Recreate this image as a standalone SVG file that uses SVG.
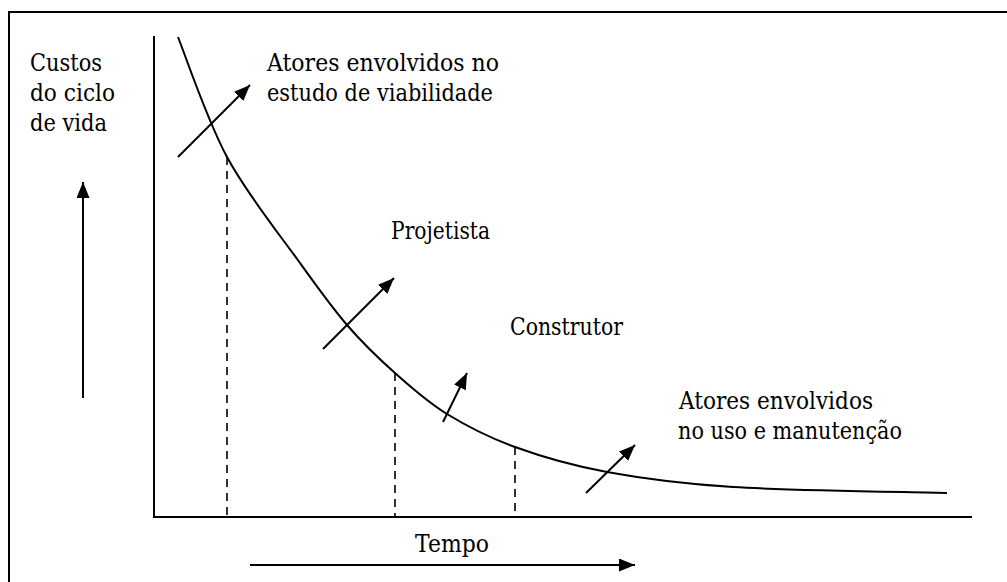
<svg xmlns="http://www.w3.org/2000/svg" width="1007" height="582" viewBox="0 0 1007 582">
<style>
  text { font-family: "DejaVu Serif", serif; font-size: 23.5px; fill: #000; }
  .ln { stroke: #000; stroke-width: 2; fill: none; }
  .ar { stroke: #000; stroke-width: 2; fill: none; marker-end: url(#ah); }
  .dash { stroke: #000; stroke-width: 1.6; stroke-dasharray: 8 6; fill: none; }
</style>
<defs>
  <marker id="ah" markerUnits="userSpaceOnUse" markerWidth="17" markerHeight="14" refX="16" refY="6.5" orient="auto">
    <path d="M0,0 L16,6.5 L0,13 Z" fill="#000"/>
  </marker>
</defs>
<rect x="0" y="0" width="1007" height="582" fill="#fff"/>
<g id="frame">
  <path class="ln" d="M9,595 L9,12 L1010,12"/>
</g>
<g id="axes">
  <path class="ln" d="M154,36 L154,517 L972,517"/>
</g>
<g id="curve">
  <path class="ln" d="M178,37 C186,57 206.7,119.3 227,157 C247.3,194.7 280,235 300,263 C320,291 331.2,306.7 347,325 C362.8,343.3 378.3,358.2 395,373 C411.7,387.8 427,401.7 447,414 C467,426.3 488.3,437.3 515,447 C541.7,456.7 570.7,465.3 607,472 C643.3,478.7 676.3,483.5 733,487 C789.7,490.5 911.3,492 947,493"/>
</g>
<g id="dashed-lines">
  <line class="dash" x1="227" y1="157" x2="227" y2="517"/>
  <line class="dash" x1="395" y1="373" x2="395" y2="517"/>
  <line class="dash" x1="515" y1="447" x2="515" y2="517"/>
</g>
<g id="connectors">
  <line class="ar" x1="178" y1="157" x2="250" y2="85"/>
  <line class="ar" x1="323" y1="349" x2="394" y2="278"/>
  <line class="ar" x1="443" y1="422" x2="467" y2="373"/>
  <line class="ar" x1="586" y1="493" x2="635" y2="445"/>
  <line class="ar" x1="83" y1="398" x2="83" y2="182"/>
  <line class="ar" x1="250" y1="565" x2="635" y2="565"/>
</g>
<g id="label-custos">
  <text x="30" y="71" textLength="72" lengthAdjust="spacingAndGlyphs">Custos</text>
  <text x="30" y="101" textLength="85" lengthAdjust="spacingAndGlyphs">do ciclo</text>
  <text x="30" y="131" textLength="77" lengthAdjust="spacingAndGlyphs">de vida</text>
</g>
<g id="label-viabilidade">
  <text x="267" y="71" textLength="232" lengthAdjust="spacingAndGlyphs">Atores envolvidos no</text>
  <text x="267" y="101" textLength="226" lengthAdjust="spacingAndGlyphs">estudo de viabilidade</text>
</g>
<g id="label-projetista">
  <text x="391" y="239" textLength="99" lengthAdjust="spacingAndGlyphs">Projetista</text>
</g>
<g id="label-construtor">
  <text x="510" y="335" textLength="113" lengthAdjust="spacingAndGlyphs">Construtor</text>
</g>
<g id="label-uso">
  <text x="679" y="409" textLength="194" lengthAdjust="spacingAndGlyphs">Atores envolvidos</text>
  <text x="678" y="439" textLength="224" lengthAdjust="spacingAndGlyphs">no uso e manutenção</text>
</g>
<g id="label-tempo">
  <text x="415" y="552" textLength="74" lengthAdjust="spacingAndGlyphs">Tempo</text>
</g>
</svg>
